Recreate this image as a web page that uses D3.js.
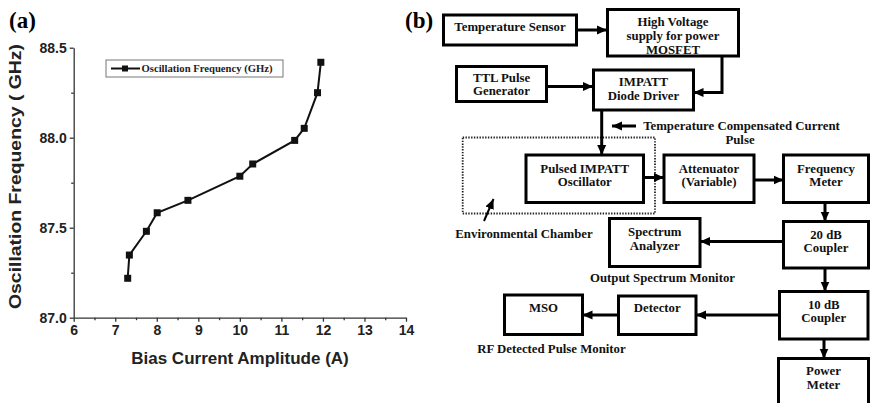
<!DOCTYPE html>
<html><head><meta charset="utf-8">
<script src="https://cdn.jsdelivr.net/npm/d3@7"></script>
<style>html,body{margin:0;padding:0;background:#fff;}svg{display:block;}</style>
</head><body>
<svg id="c" width="870" height="403"></svg>
<script>
// ---- data (panel a) ----
const biasCurrent = [7.30, 7.34, 7.75, 8.01, 8.75, 10.0, 10.31, 11.32, 11.55, 11.87, 11.95];
const oscFrequency = [87.219, 87.348, 87.48, 87.583, 87.652, 87.786, 87.854, 87.985, 88.052, 88.25, 88.419];
const xTicks = [6, 7, 8, 9, 10, 11, 12, 13, 14];
const yTicks = [87.0, 87.5, 88.0, 88.5];
const seriesName = "Oscillation Frequency (GHz)";

// ---- block diagram (panel b) ----
const blockLabels = [
  ["Temperature Sensor"], ["High Voltage", "supply for power", "MOSFET"], ["TTL Pulse", "Generator"],
  ["IMPATT", "Diode Driver"], ["Pulsed IMPATT", "Oscillator"], ["Attenuator", "(Variable)"],
  ["Frequency", "Meter"], ["Spectrum", "Analyzer"], ["20 dB", "Coupler"], ["10 dB", "Coupler"],
  ["Power", "Meter"], ["MSO"], ["Detector"]
];
const blockRects = [
  [443.5, 15, 133, 30, 31], [607.5, 9.5, 131, 46.5, 26], [456.5, 66.5, 90, 35, 81.5],
  [593.5, 70, 100, 40, 86], [526, 155, 117.5, 47.5, 172.5], [664, 155, 90, 47.5, 172.5],
  [783.5, 155, 85, 47.5, 172.5], [609.5, 218.5, 90.5, 48, 236], [783.5, 221.5, 85, 46.5, 238.5],
  [779.5, 291.5, 88.5, 47.5, 308.5], [778.5, 358.5, 90, 50, 375], [504.5, 295, 78, 39.5, 311.5],
  [618.5, 296, 77.5, 38.5, 312]
];
const freeLabels = [
  ["Temperature Compensated Current", 741.5, 130], ["Pulse", 740, 144],
  ["Environmental Chamber", 524, 237.5], ["Output Spectrum Monitor", 662.5, 282],
  ["RF Detected Pulse Monitor", 551.5, 353]
];
const arrows = [
  [[577,30],[607,30]], [[547,86.5],[593,86.5]], [[722,56],[722,92.5],[693.5,92.5]],
  [[601.7,110],[601.7,155]], [[636,126],[612,126]], [[643,177.5],[664,177.5]],
  [[754,180],[783.5,180]], [[825,202.5],[825,221.5]], [[783.5,241.5],[700,241.5]],
  [[825,268],[825,291.5]], [[779.5,315],[696,315]], [[618.5,315],[582.5,315]],
  [[824,339],[824,358.5]]
];

const svg = d3.select("#c");

// ---------- Panel (a) ----------
const x = d3.scaleLinear().domain([6, 14]).range([73.7, 406]);
const y = d3.scaleLinear().domain([87, 88.5]).range([317.7, 47.7]);
const axisCol = "#333";
const sans = "'Liberation Sans', Arial, sans-serif";
const serif = "'Liberation Serif', 'Times New Roman', serif";

svg.append("text").attr("x", 9).attr("y", 28).attr("font-family", serif)
  .attr("font-weight", "bold").attr("font-size", 23).text("(a)");

const gx = svg.append("g").attr("transform", `translate(0,${y(87)})`)
  .call(d3.axisBottom(x).tickValues(xTicks).tickSize(4).tickSizeOuter(0).tickPadding(3).tickFormat(d3.format("d")));
const gxm = svg.append("g").attr("transform", `translate(0,${y(87)})`)
  .call(d3.axisBottom(x).tickValues(d3.range(6.5, 14, 1)).tickSize(2.5).tickSizeOuter(0).tickFormat(""));
const gy = svg.append("g").attr("transform", `translate(${x(6)},0)`)
  .call(d3.axisLeft(y).tickValues(yTicks).tickSize(4).tickSizeOuter(0).tickPadding(3).tickFormat(d3.format(".1f")));
const gym = svg.append("g").attr("transform", `translate(${x(6)},0)`)
  .call(d3.axisLeft(y).tickValues([87.25, 87.75, 88.25]).tickSize(2.5).tickSizeOuter(0).tickFormat(""));
[gx, gxm, gy, gym].forEach(g => {
  g.selectAll("path, line").attr("stroke", axisCol).attr("stroke-width", 1.3);
  g.selectAll("text").attr("font-family", sans).attr("font-weight", "bold")
    .attr("font-size", 14).attr("fill", "#222");
});
gxm.select("path").remove(); gym.select("path").remove();

svg.append("text").attr("x", 240).attr("y", 364).attr("text-anchor", "middle")
  .attr("font-family", sans).attr("font-weight", "bold").attr("font-size", 17).attr("fill", "#222")
  .text("Bias Current Amplitude (A)");
svg.append("text").attr("transform", "translate(21,176.5) rotate(-90)").attr("text-anchor", "middle")
  .attr("font-family", sans).attr("font-weight", "bold").attr("font-size", 17).attr("fill", "#222")
  .attr("textLength", 265).attr("lengthAdjust", "spacingAndGlyphs")
  .text("Oscillation Frequency ( GHz)");

const pts = biasCurrent.map((v, i) => [v, oscFrequency[i]]);
svg.append("path").datum(pts)
  .attr("d", d3.line().x(d => x(d[0])).y(d => y(d[1])))
  .attr("fill", "none").attr("stroke", "#111").attr("stroke-width", 2);
svg.selectAll("rect.pt").data(pts).enter().append("rect").attr("class", "pt")
  .attr("x", d => x(d[0]) - 3.5).attr("y", d => y(d[1]) - 3.5)
  .attr("width", 7).attr("height", 7).attr("fill", "#111");

// legend
const lg = svg.append("g");
lg.append("rect").attr("x", 106).attr("y", 60).attr("width", 177).attr("height", 17)
  .attr("fill", "#fff").attr("stroke", "#777").attr("stroke-width", 1);
lg.append("line").attr("x1", 111).attr("x2", 140).attr("y1", 68.5).attr("y2", 68.5)
  .attr("stroke", "#111").attr("stroke-width", 2);
lg.append("rect").attr("x", 122).attr("y", 65.5).attr("width", 6).attr("height", 6).attr("fill", "#111");
lg.append("text").attr("x", 141.5).attr("y", 72).attr("font-family", serif).attr("font-weight", "bold")
  .attr("font-size", 10).attr("textLength", 131).attr("lengthAdjust", "spacingAndGlyphs")
  .attr("fill", "#222").text(seriesName);

// ---------- Panel (b) ----------
svg.append("text").attr("x", 405).attr("y", 28).attr("font-family", serif)
  .attr("font-weight", "bold").attr("font-size", 23).text("(b)");

const defs = svg.append("defs");
defs.append("marker").attr("id", "ah").attr("markerUnits", "userSpaceOnUse")
  .attr("viewBox", "0 0 10 10").attr("refX", 10).attr("refY", 5)
  .attr("markerWidth", 10).attr("markerHeight", 10).attr("orient", "auto")
  .append("path").attr("d", "M0,0.5 L10,5 L0,9.5 Z").attr("fill", "#000");

// dotted environmental chamber
svg.append("rect").attr("x", 462.7).attr("y", 137.5).attr("width", 192.3).attr("height", 76)
  .attr("fill", "none").attr("stroke", "#222").attr("stroke-width", 1.8).attr("stroke-dasharray", "1.4,1.4");

const fs = 12.8;
const bg = svg.append("g");
blockRects.forEach((r, i) => {
  bg.append("rect").attr("x", r[0]).attr("y", r[1]).attr("width", r[2]).attr("height", r[3])
    .attr("fill", "#fff").attr("stroke", "#000").attr("stroke-width", 3);
  blockLabels[i].forEach((t, j) => {
    bg.append("text").attr("x", r[0] + r[2] / 2).attr("y", r[4] + j * 13.8).attr("text-anchor", "middle")
      .attr("font-family", serif).attr("font-weight", "bold").attr("font-size", fs).attr("fill", "#111").text(t);
  });
});
freeLabels.forEach(f => {
  svg.append("text").attr("x", f[1]).attr("y", f[2]).attr("text-anchor", "middle")
    .attr("font-family", serif).attr("font-weight", "bold").attr("font-size", fs).attr("fill", "#111").text(f[0]);
});
arrows.forEach(a => {
  svg.append("path").attr("d", d3.line()(a)).attr("fill", "none").attr("stroke", "#000")
    .attr("stroke-width", 3).attr("marker-end", "url(#ah)");
});
// environmental chamber pointer
svg.append("path").attr("d", d3.line()([[484, 221], [493.5, 199]])).attr("fill", "none")
  .attr("stroke", "#000").attr("stroke-width", 2).attr("marker-end", "url(#ah)");
</script>
</body></html>
